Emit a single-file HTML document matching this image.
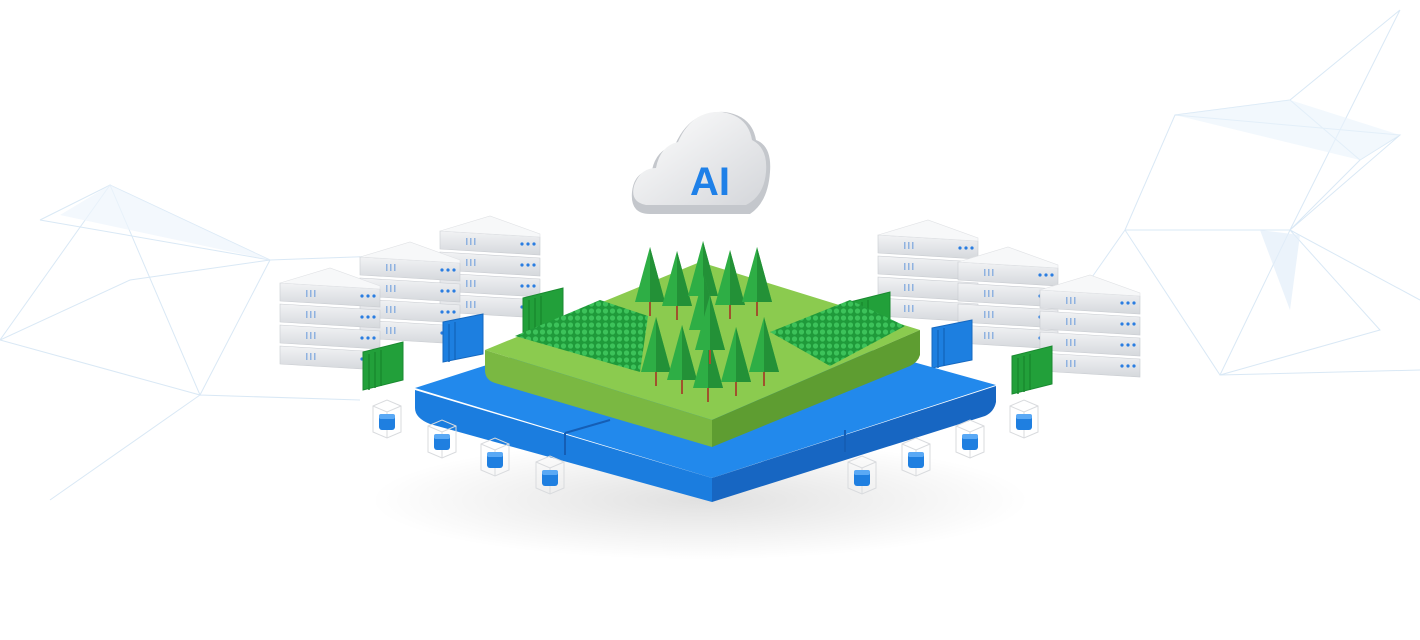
<!DOCTYPE html>
<html><head><meta charset="utf-8"><style>
html,body{margin:0;padding:0;background:#fff;}
svg{display:block;}
</style></head><body>
<svg width="1420" height="640" viewBox="0 0 1420 640" xmlns="http://www.w3.org/2000/svg">
<defs>
<linearGradient id="srv" x1="0" y1="0" x2="0" y2="1"><stop offset="0" stop-color="#f2f3f5"/><stop offset="1" stop-color="#d5d8dc"/></linearGradient>
<linearGradient id="cl" x1="0" y1="0" x2="1" y2="1"><stop offset="0" stop-color="#ffffff"/><stop offset="1" stop-color="#d4d6da"/></linearGradient>
<radialGradient id="sh" cx="0.5" cy="0.5" r="0.5"><stop offset="0" stop-color="#000" stop-opacity="0.12"/><stop offset="1" stop-color="#000" stop-opacity="0"/></radialGradient>
<pattern id="dots" width="7" height="7" patternUnits="userSpaceOnUse"><rect width="7" height="7" fill="#1f9a3a"/><circle cx="3.5" cy="3" r="2.6" fill="#3cc25a"/></pattern>
<g id="unit">
  <path d="M0 0 L100 6 L100 24 L0 18 Z" fill="url(#srv)" stroke="#c9ccd1" stroke-width="0.6"/>
  <rect x="26" y="7" width="1.5" height="7" fill="#8fb2e0"/><rect x="30" y="7" width="1.5" height="7" fill="#8fb2e0"/><rect x="34" y="7" width="1.5" height="7" fill="#8fb2e0"/>
  <circle cx="82" cy="13" r="1.6" fill="#2a7de1"/><circle cx="88" cy="13" r="1.6" fill="#2a7de1"/><circle cx="94" cy="13" r="1.6" fill="#2a7de1"/>
</g>
<g id="stack">
  <use href="#unit" y="76"/><use href="#unit" y="55"/><use href="#unit" y="34"/><use href="#unit" y="13"/>
  <path d="M0 13 L50 -2 L100 16 L100 19 L0 13 Z" fill="#f7f8f9" stroke="#e0e2e5" stroke-width="0.6"/>
</g>
<g id="tree">
  <rect x="-1" y="0" width="2" height="14" fill="#a0522d"/>
  <path d="M0 -55 L-15 0 L15 0 Z" fill="#2eae45"/>
  <path d="M0 -55 L0 0 L15 0 Z" fill="#239137"/>
</g>
<g id="cube">
  <path d="M0 -14 L14 -20 L28 -14 L28 12 L14 18 L0 12 Z M0 -14 L14 -8 L28 -14 M14 -8 L14 18" fill="none" stroke="#d9dbde" stroke-width="1"/>
  <rect x="6" y="-6" width="16" height="16" rx="3" fill="#1f7fe0"/>
  <rect x="6" y="-6" width="16" height="5" rx="2" fill="#5aa9f5"/>
</g>
<g id="gcard"><path d="M0 0 L40 -10 L40 28 L0 38 Z" fill="#22a03a" stroke="#1a8a30" stroke-width="1"/><path d="M6 2 L6 38 M12 0 L12 36 M18 -2 L18 34" stroke="#198a2e" stroke-width="1.5"/></g>
<g id="bcard"><path d="M0 0 L40 -8 L40 32 L0 40 Z" fill="#1d7fe0" stroke="#1568c0" stroke-width="1"/><path d="M6 2 L6 40 M12 0 L12 38" stroke="#1568c0" stroke-width="1.5"/></g>
</defs>

<g stroke="#cfe2f3" stroke-width="1" fill="none" opacity="0.8">
  <path d="M40 220 L110 185 L270 260 L410 255 M40 220 L270 260 L200 395 L0 340 L110 185 L200 395 L360 400 M130 280 L0 340 M130 280 L270 260 M50 500 L200 395"/>
  <path d="M1400 10 L1290 100 L1175 115 L1125 230 L1220 375 L1380 330 L1290 230 L1125 230 M1175 115 L1400 135 L1290 230 L1420 300 M1290 100 L1360 160 L1290 230 L1220 375 M1125 230 L1090 280 M1220 375 L1420 370 M1360 160 L1400 135 M1400 10 L1290 230"/>
</g>
<path d="M1175 115 L1290 100 L1400 135 L1360 160 Z" fill="#eaf3fb" opacity="0.6"/>
<path d="M1260 230 L1300 235 L1290 310 Z" fill="#e3eef9" opacity="0.7"/>
<path d="M60 215 L110 185 L270 260 Z" fill="#eef5fc" opacity="0.7"/>

<ellipse cx="700" cy="500" rx="330" ry="60" fill="url(#sh)"/>

<use href="#stack" x="440" y="218"/>
<use href="#stack" x="360" y="244"/>
<use href="#stack" x="280" y="270"/>
<use href="#stack" x="878" y="222"/>
<use href="#stack" x="958" y="249"/>
<use href="#stack" x="1040" y="277"/>

<use href="#gcard" x="523" y="298"/>
<use href="#bcard" x="443" y="322"/>
<use href="#gcard" x="363" y="352"/>
<use href="#gcard" x="850" y="302"/>
<use href="#bcard" x="932" y="328"/>
<use href="#gcard" x="1012" y="356"/>

<use href="#cube" x="373" y="420"/>
<use href="#cube" x="1010" y="420"/>

<path d="M415 388 L690 300 L996 385 L712 478 Z" fill="#2289ec"/>
<path d="M415 390 L712 478 L712 502 L430 424 Q415 418 415 408 Z" fill="#1b7ddf"/>
<path d="M712 478 L996 386 L996 402 Q994 412 985 416 L712 502 Z" fill="#1766c2"/>
<path d="M565 433 L565 455 M845 430 L845 452" stroke="#155eb5" stroke-width="2"/>
<path d="M565 433 L610 420" stroke="#155eb5" stroke-width="2"/>

<path d="M485 350 L700 262 L920 330 L712 420 Z" fill="#8bcb4f"/>
<path d="M485 350 L712 420 L712 447 L495 383 Q485 380 485 370 Z" fill="#7ab842"/>
<path d="M712 420 L920 330 L920 355 Q918 362 910 366 L712 447 Z" fill="#5e9d31"/>

<path d="M515 336 L600 300 L648 316 L640 372 Z" fill="url(#dots)"/>
<path d="M770 332 L850 300 L905 326 L830 366 Z" fill="url(#dots)"/>

<use href="#tree" x="650" y="302"/>
<use href="#tree" x="677" y="306"/>
<use href="#tree" x="703" y="296"/>
<use href="#tree" x="730" y="305"/>
<use href="#tree" x="757" y="302"/>
<use href="#tree" x="704" y="330"/>
<use href="#tree" x="656" y="372"/>
<use href="#tree" x="682" y="380"/>
<use href="#tree" x="708" y="388"/>
<use href="#tree" x="736" y="382"/>
<use href="#tree" x="764" y="372"/>
<use href="#tree" x="710" y="350"/>

<use href="#cube" x="428" y="440"/>
<use href="#cube" x="481" y="458"/>
<use href="#cube" x="536" y="476"/>
<use href="#cube" x="848" y="476"/>
<use href="#cube" x="902" y="458"/>
<use href="#cube" x="956" y="440"/>

<g>
<path d="M650 214 Q630 214 632 192 Q634 172 652 170 Q656 150 675 145 Q690 110 725 112 Q752 116 756 140 Q772 146 770 172 Q768 202 750 214 Z" fill="#c4c7cc"/>
<path d="M646 205 Q630 202 634 186 Q640 168 656 168 Q660 146 678 142 Q692 110 722 112 Q748 116 752 140 Q768 148 766 172 Q764 196 746 205 Z" fill="url(#cl)"/>
<text x="690" y="195" font-family="Liberation Sans, sans-serif" font-weight="bold" font-size="40" fill="#1e80e8">AI</text>
</g>
</svg>
</body></html>
